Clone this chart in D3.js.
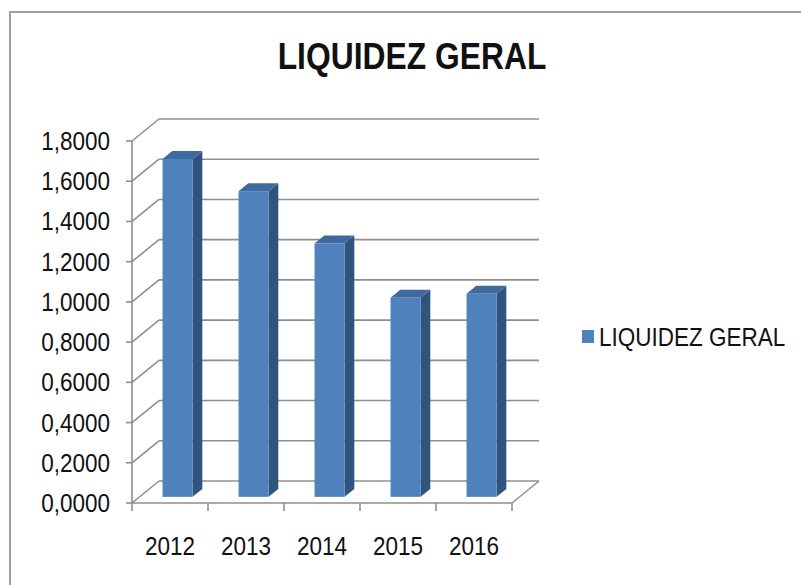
<!DOCTYPE html>
<html>
<head>
<meta charset="utf-8">
<script src="https://cdn.jsdelivr.net/npm/d3@7/dist/d3.min.js"></script>
<style>
  html, body { margin: 0; padding: 0; background: #fff; }
  svg { display: block; }
  text { font-family: "Liberation Sans", Arial, sans-serif; fill: #111; }
</style>
</head>
<body>
<svg id="chart" width="801" height="585"></svg>
<script>
// ---- data ----
const categories = ["2012", "2013", "2014", "2015", "2016"];
const values = [1.68, 1.52, 1.26, 0.99, 1.01];
const yTicks = [0, 0.2, 0.4, 0.6, 0.8, 1.0, 1.2, 1.4, 1.6, 1.8];
const seriesName = "LIQUIDEZ GERAL";
const chartTitle = "LIQUIDEZ GERAL";

(function () {
// ---- layout ----
const W = 801, H = 585;
const pLeft = 132, pRight = 512, pBottom = 503, pTop = 141;
const DX = 27, DY = 22;          // depth of 3D box
const f0 = 0.28, f1 = 0.64;      // bar depth (fraction of box depth)
const sx = 0.9;                  // horizontal text compression

const colFront = "#4F81BD", colSide = "#31547F", colTop = "#3E6A9F";
const gridCol = "#8f8f8f";

const svg = d3.select("#chart");
svg.append("rect").attr("width", W).attr("height", H).attr("fill", "#fff");
// chart border
svg.append("rect").attr("x", 10).attr("y", 12).attr("width", 820).attr("height", 600)
  .attr("fill", "none").attr("stroke", "#a0a0a0").attr("stroke-width", 2);

const x = d3.scaleBand().domain(categories).range([pLeft, pRight]).paddingInner(0).paddingOuter(0);
const y = d3.scaleLinear().domain([0, 1.8]).range([pBottom, pTop]);
const fmt = d3.formatLocale({decimal: ",", thousands: ".", grouping: [3], currency: ["R$", ""]}).format(".4f");

// title
svg.append("text")
  .attr("transform", `translate(412,69) scale(0.86,1)`)
  .attr("text-anchor", "middle")
  .style("font-size", "37px").style("font-weight", "bold")
  .text(chartTitle);

const g = svg.append("g");

// gridlines: back wall + side wall
yTicks.forEach(v => {
  const yy = y(v);
  g.append("line").attr("x1", pLeft + DX).attr("x2", pRight + DX)
    .attr("y1", yy - DY).attr("y2", yy - DY)
    .attr("stroke", gridCol).attr("stroke-width", 1.6);
  g.append("line").attr("x1", pLeft).attr("y1", yy)
    .attr("x2", pLeft + DX).attr("y2", yy - DY)
    .attr("stroke", gridCol).attr("stroke-width", 1.6);
});
// floor right edge
g.append("line").attr("x1", pRight).attr("y1", y(0)).attr("x2", pRight + DX).attr("y2", y(0) - DY)
  .attr("stroke", gridCol).attr("stroke-width", 1.6);

// bars
const bw = x.bandwidth() * 0.395;
const barsG = g.append("g");
categories.forEach((c, i) => {
  const v = values[i];
  const x0 = x(c) + (x.bandwidth() - bw) / 2 + f0 * DX;
  const x1 = x0 + bw;
  const yb = y(0) - f0 * DY;
  const yt = y(v) - f0 * DY;
  const ddx = (f1 - f0) * DX, ddy = (f1 - f0) * DY;
  // side
  barsG.append("polygon")
    .attr("points", [[x1, yt], [x1 + ddx, yt - ddy], [x1 + ddx, yb - ddy], [x1, yb]].join(" "))
    .attr("fill", colSide);
  // top
  barsG.append("polygon")
    .attr("points", [[x0, yt], [x0 + ddx, yt - ddy], [x1 + ddx, yt - ddy], [x1, yt]].join(" "))
    .attr("fill", colTop);
  // front
  barsG.append("rect").attr("x", x0).attr("y", yt).attr("width", bw).attr("height", yb - yt)
    .attr("fill", colFront);
});

// y axis
const axG = svg.append("g");
axG.append("line").attr("x1", pLeft).attr("x2", pLeft).attr("y1", y(1.8)).attr("y2", y(0))
  .attr("stroke", gridCol).attr("stroke-width", 1.6);
yTicks.forEach(v => {
  axG.append("line").attr("x1", pLeft - 6).attr("x2", pLeft).attr("y1", y(v)).attr("y2", y(v))
    .attr("stroke", gridCol).attr("stroke-width", 1.6);
  axG.append("text")
    .attr("transform", `translate(110,${y(v) + 9}) scale(${sx},1)`)
    .attr("text-anchor", "end").style("font-size", "25px")
    .text(fmt(v));
});

// x axis
axG.append("line").attr("x1", pLeft).attr("x2", pRight).attr("y1", y(0)).attr("y2", y(0))
  .attr("stroke", gridCol).attr("stroke-width", 1.6);
const bounds = categories.map(c => x(c)).concat([pRight]);
bounds.forEach(bx => {
  axG.append("line").attr("x1", bx).attr("x2", bx).attr("y1", y(0)).attr("y2", y(0) + 8)
    .attr("stroke", gridCol).attr("stroke-width", 1.6);
});
categories.forEach(c => {
  axG.append("text")
    .attr("transform", `translate(${x(c) + x.bandwidth() / 2},555) scale(${sx},1)`)
    .attr("text-anchor", "middle").style("font-size", "25px")
    .text(c);
});

// legend
svg.append("rect").attr("x", 582).attr("y", 330).attr("width", 12).attr("height", 13).attr("fill", colFront);
svg.append("text")
  .attr("transform", `translate(599,346) scale(${sx},1)`)
  .style("font-size", "25px")
  .text(seriesName);
})();
</script>
</body>
</html>
